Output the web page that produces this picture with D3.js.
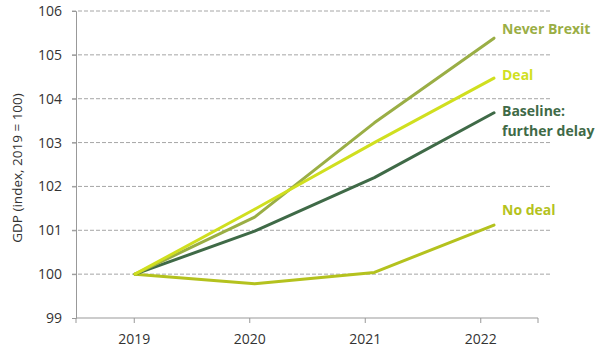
<!DOCTYPE html>
<html><head><meta charset="utf-8">
<script src="https://cdn.jsdelivr.net/npm/d3@7"></script>
<style>body{margin:0;background:#fff;} svg{display:block;font-family:"Open Sans",sans-serif;}</style>
</head><body>
<svg id="c" width="600" height="354"></svg>
<script>
const years = ["2019","2020","2021","2022"];
const yTicks = [99,100,101,102,103,104,105,106];
const neverBrexit = [100, 101.3, 103.45, 105.38];
const deal = [100, 101.48, 103.0, 104.47];
const baseline = [100, 100.98, 102.2, 103.68];
const noDeal = [100, 99.78, 100.04, 101.12];
const seriesNames = ["Never Brexit","Deal","Baseline: further delay","No deal"];

const series = [
  {name: seriesNames[3], values: noDeal, color: "#b4c21e", label: ["No deal"], ly: 210},
  {name: seriesNames[2], values: baseline, color: "#3f6a47", label: ["Baseline:","further delay"], ly: 111},
  {name: seriesNames[0], values: neverBrexit, color: "#9aae45", label: ["Never Brexit"], ly: 29},
  {name: seriesNames[1], values: deal, color: "#d0df1f", label: ["Deal"], ly: 75}
];

const svg = d3.select("#c");
const mLeft = 76, mRight = 538, mTop = 11, mBottom = 318;
const y = d3.scaleLinear().domain([99,106]).range([mBottom, mTop]);
const xAxisScale = d3.scalePoint().domain(years).range([mLeft, mRight]).padding(0.5);
const xLine = d3.scaleLinear().domain([0, years.length-1]).range([135, 494]);

// gridlines
svg.append("g").selectAll("line").data(yTicks.filter(d=>d>99)).join("line")
  .attr("x1", 72).attr("x2", 552).attr("y1", d=>y(d)).attr("y2", d=>y(d))
  .attr("stroke", "#a6a6a6").attr("stroke-width", 1).attr("stroke-dasharray", "4,2");

// y axis
const ya = svg.append("g").attr("transform", `translate(${mLeft},0)`)
  .call(d3.axisLeft(y).tickValues(yTicks).tickSize(4).tickPadding(10).tickFormat(d3.format("d")));
ya.select(".domain").attr("stroke", "#999");
ya.selectAll(".tick line").attr("stroke", "#999");
ya.selectAll("text").attr("font-size", 14).attr("fill", "#333").attr("font-family", '"Open Sans",sans-serif');

// x axis
const xa = svg.append("g").attr("transform", `translate(0,${mBottom})`)
  .call(d3.axisBottom(xAxisScale).tickSize(5).tickSizeOuter(5).tickPadding(11));
xa.select(".domain").attr("stroke", "#999").attr("d", `M${mLeft},5V0H${mRight}V5`);
xa.selectAll(".tick line").attr("stroke", "#999");
xa.selectAll("text").attr("font-size", 14).attr("fill", "#333").attr("font-family", '"Open Sans",sans-serif');

// y label
svg.append("text").attr("transform", "translate(22,168) rotate(-90)")
  .attr("text-anchor", "middle").attr("font-size", 13.5).attr("fill", "#333")
  .text("GDP (index, 2019 = 100)");

const line = d3.line().x((d,i)=>xLine(i)).y(d=>y(d));
svg.append("g").selectAll("path").data(series).join("path")
  .attr("d", d=>line(d.values)).attr("fill", "none")
  .attr("stroke", d=>d.color).attr("stroke-width", 3).attr("stroke-linecap", "round").attr("stroke-linejoin", "round");

// labels
series.forEach(s => {
  const t = svg.append("text").attr("x", 502).attr("font-size", 14).attr("font-weight", "bold").attr("fill", s.color);
  s.label.forEach((l,i) => {
    t.append("tspan").attr("x", 502).attr("y", s.ly + i*20).attr("dy", "0.35em").text(l);
  });
});
</script>
</body></html>
